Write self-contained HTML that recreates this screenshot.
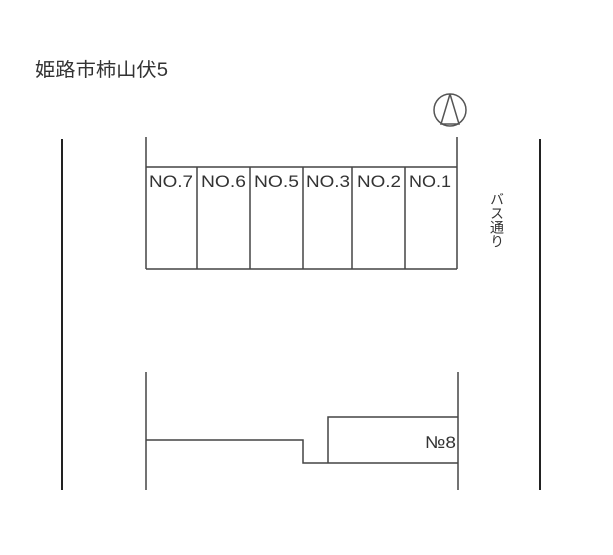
<!DOCTYPE html>
<html><head><meta charset="utf-8"><style>
html,body{margin:0;padding:0;background:#fff;width:613px;height:555px;overflow:hidden}
svg{display:block}
text{font-family:"Liberation Sans","Noto Sans CJK JP",sans-serif;fill:#333}
</style></head><body>
<svg width="613" height="555" viewBox="0 0 613 555">
<text x="35" y="76" font-size="19" textLength="133" lengthAdjust="spacingAndGlyphs">姫路市柿山伏5</text>
<g stroke="#555" stroke-width="1.5" fill="none">
<circle cx="450" cy="110" r="16"/>
<polyline points="450,94 441,124 459,124 450,94"/>
</g>
<g stroke="#222" stroke-width="2">
<line x1="62" y1="139" x2="62" y2="490"/>
<line x1="540" y1="139" x2="540" y2="490"/>
</g>
<g stroke="#444" stroke-width="1.5" fill="none">
<line x1="146" y1="137" x2="146" y2="269"/>
<line x1="457" y1="137" x2="457" y2="269"/>
<line x1="146" y1="167" x2="457" y2="167"/>
<line x1="146" y1="269" x2="457" y2="269"/>
<line x1="197" y1="167" x2="197" y2="269"/>
<line x1="250" y1="167" x2="250" y2="269"/>
<line x1="303" y1="167" x2="303" y2="269"/>
<line x1="352" y1="167" x2="352" y2="269"/>
<line x1="405" y1="167" x2="405" y2="269"/>
<line x1="146" y1="372" x2="146" y2="490"/>
<line x1="458" y1="372" x2="458" y2="490"/>
<polyline points="146,440 303,440 303,463 458,463"/>
<polyline points="328,463 328,417 458,417"/>
</g>
<g font-size="17" lengthAdjust="spacingAndGlyphs">
<text x="149" y="187" textLength="44" lengthAdjust="spacingAndGlyphs">NO.7</text>
<text x="201" y="187" textLength="45" lengthAdjust="spacingAndGlyphs">NO.6</text>
<text x="254" y="187" textLength="45" lengthAdjust="spacingAndGlyphs">NO.5</text>
<text x="306" y="187" textLength="44" lengthAdjust="spacingAndGlyphs">NO.3</text>
<text x="357" y="187" textLength="44" lengthAdjust="spacingAndGlyphs">NO.2</text>
<text x="409" y="187" textLength="42" lengthAdjust="spacingAndGlyphs">NO.1</text>
<text x="425" y="448" textLength="31" lengthAdjust="spacingAndGlyphs">№8</text>
</g>
<text font-size="14" style="writing-mode:vertical-rl" x="497" y="192">バス通り</text>
</svg>
</body></html>
